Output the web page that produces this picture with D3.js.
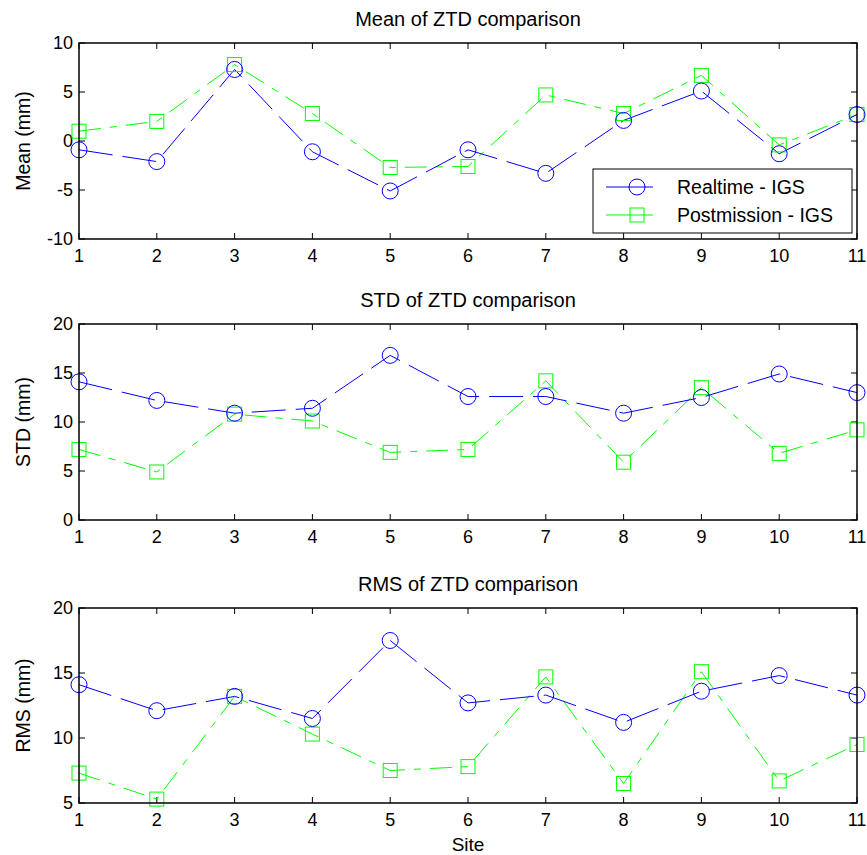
<!DOCTYPE html>
<html><head><meta charset="utf-8">
<script src="https://cdn.jsdelivr.net/npm/d3@7"></script>
<style>
body{margin:0;background:#fff;}
svg{display:block;font-family:"Liberation Sans",Arial,Helvetica,sans-serif;}
</style></head>
<body>
<svg id="chart" width="867" height="855"></svg>
<script>
const sites = [1,2,3,4,5,6,7,8,9,10,11];
const seriesNames = ["Realtime - IGS", "Postmission - IGS"];
const meanRealtime    = [-0.9,-2.1, 7.3,-1.1,-5.1,-0.9,-3.3, 2.1, 5.1,-1.3, 2.7];
const meanPostmission = [ 1.0, 2.0, 7.8, 2.8,-2.7,-2.6, 4.7, 2.8, 6.7,-0.4, 2.7];
const stdRealtime     = [14.1,12.2,10.9,11.4,16.8,12.6,12.6,10.9,12.5,14.9,13.0];
const stdPostmission  = [ 7.2, 4.9,10.8,10.1, 6.9, 7.2,14.2, 5.9,13.5, 6.8, 9.2];
const rmsRealtime     = [14.1,12.1,13.2,11.5,17.5,12.7,13.3,11.2,13.6,14.8,13.3];
const rmsPostmission  = [ 7.3, 5.3,13.2,10.3, 7.5, 7.8,14.7, 6.5,15.1, 6.7, 9.5];
const xTicks = [1,2,3,4,5,6,7,8,9,10,11];
const meanTicks = [-10,-5,0,5,10];
const stdTicks = [0,5,10,15,20];
const rmsTicks = [5,10,15,20];

const svg = d3.select("#chart");
const x = d3.scaleLinear().domain([1,11]).range([79,857]);
const blue = "#0000ff", green = "#00ff00";

const panels = [
  {title:"Mean of ZTD comparison", ylabel:"Mean (mm)", domain:[-10,10], ticks:meanTicks, top:43, bottom:239, a:meanRealtime, b:meanPostmission, legend:true},
  {title:"STD of ZTD comparison", ylabel:"STD (mm)", domain:[0,20], ticks:stdTicks, top:324, bottom:520, a:stdRealtime, b:stdPostmission},
  {title:"RMS of ZTD comparison", ylabel:"RMS (mm)", domain:[5,20], ticks:rmsTicks, top:608, bottom:803, a:rmsRealtime, b:rmsPostmission, xlabel:"Site"}
];

const tickLen = 6;
panels.forEach(p => {
  const y = d3.scaleLinear().domain(p.domain).range([p.bottom, p.top]);
  const g = svg.append("g");
  const [x0,x1] = x.range();
  const tg = g.append("g").attr("stroke","#000").attr("stroke-width",1);
  xTicks.forEach(t => {
    tg.append("line").attr("x1",x(t)).attr("x2",x(t)).attr("y1",p.bottom).attr("y2",p.bottom-tickLen);
    tg.append("line").attr("x1",x(t)).attr("x2",x(t)).attr("y1",p.top).attr("y2",p.top+tickLen);
  });
  p.ticks.forEach(t => {
    tg.append("line").attr("x1",x0).attr("x2",x0+tickLen).attr("y1",y(t)).attr("y2",y(t));
    tg.append("line").attr("x1",x1).attr("x2",x1-tickLen).attr("y1",y(t)).attr("y2",y(t));
  });
  g.append("g").selectAll("text").data(xTicks).join("text")
    .attr("x",d=>x(d)).attr("y",p.bottom+23).attr("text-anchor","middle")
    .attr("font-size",18).attr("fill","#000").text(d=>d);
  g.append("g").selectAll("text").data(p.ticks).join("text")
    .attr("x",x0-6).attr("y",d=>y(d)+6).attr("text-anchor","end")
    .attr("font-size",18).attr("fill","#000").text(d=>d);
  g.append("text").attr("x",(x0+x1)/2).attr("y",p.top-17).attr("text-anchor","middle")
    .attr("font-size",20).attr("fill","#000").text(p.title);
  g.append("text").attr("transform",`translate(30,${(p.top+p.bottom)/2}) rotate(-90)`)
    .attr("text-anchor","middle").attr("font-size",19.5).attr("fill","#000").text(p.ylabel);
  if (p.xlabel) {
    g.append("text").attr("x",(x0+x1)/2).attr("y",p.bottom+48).attr("text-anchor","middle")
      .attr("font-size",19).attr("fill","#000").text(p.xlabel);
  }
  const line = d3.line().x((d,i)=>x(sites[i])).y(d=>y(d));
  g.append("path").datum(p.b).attr("d",line).attr("fill","none").attr("stroke",green)
    .attr("stroke-width",1).attr("stroke-dasharray","22,9,7,9");
  g.append("path").datum(p.a).attr("d",line).attr("fill","none").attr("stroke",blue)
    .attr("stroke-width",1).attr("stroke-dasharray","34,10");
  g.append("g").selectAll("rect").data(p.b).join("rect")
    .attr("x",(d,i)=>x(sites[i])-7).attr("y",d=>y(d)-7).attr("width",14).attr("height",14)
    .attr("fill","none").attr("stroke",green).attr("stroke-width",1);
  g.append("g").selectAll("circle").data(p.a).join("circle")
    .attr("cx",(d,i)=>x(sites[i])).attr("cy",d=>y(d)).attr("r",8)
    .attr("fill","none").attr("stroke",blue).attr("stroke-width",1);
  g.append("rect").attr("x",x0).attr("y",p.top).attr("width",x1-x0).attr("height",p.bottom-p.top)
    .attr("fill","none").attr("stroke","#000").attr("stroke-width",1.5);

  if (p.legend) {
    const lg = g.append("g");
    lg.append("rect").attr("x",593).attr("y",169).attr("width",259).attr("height",64)
      .attr("fill","#fff").attr("stroke","#000").attr("stroke-width",1);
    const rows = [{name:seriesNames[0], color:blue, shape:"circle", yy:187},
                  {name:seriesNames[1], color:green, shape:"square", yy:215}];
    rows.forEach(r => {
      lg.append("line").attr("x1",606).attr("x2",653).attr("y1",r.yy).attr("y2",r.yy)
        .attr("stroke",r.color).attr("stroke-width",1);
      if (r.shape==="circle") {
        lg.append("circle").attr("cx",637).attr("cy",r.yy).attr("r",8).attr("fill","none").attr("stroke",r.color);
      } else {
        lg.append("rect").attr("x",630).attr("y",r.yy-7).attr("width",14).attr("height",14).attr("fill","none").attr("stroke",r.color);
      }
      lg.append("text").attr("x",677).attr("y",r.yy+7).attr("font-size",19.5).attr("fill","#000").text(r.name);
    });
  }
});
</script>
</body></html>
